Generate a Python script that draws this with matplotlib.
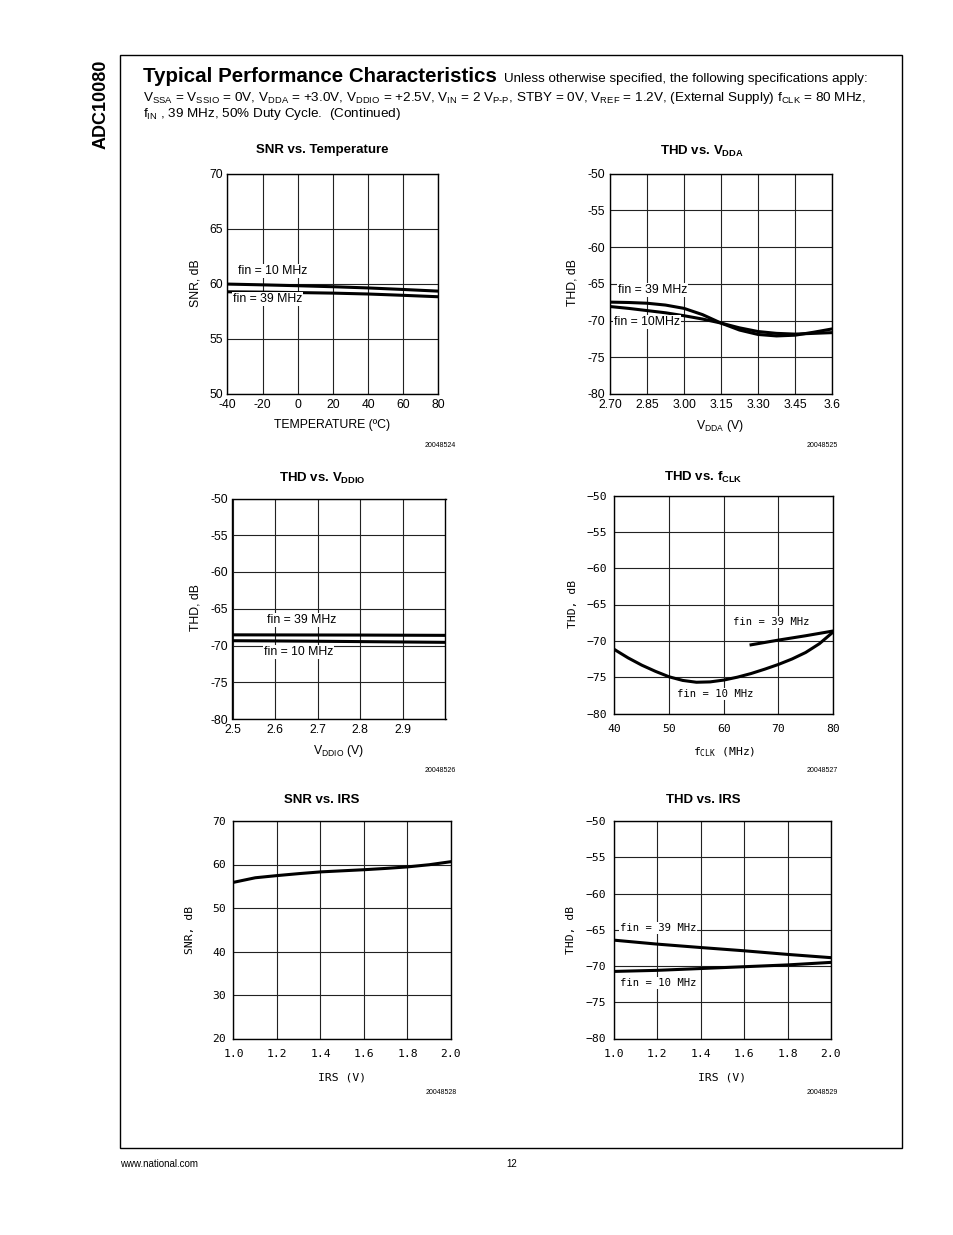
import matplotlib
matplotlib.use('Agg')
import matplotlib.pyplot as plt
from matplotlib.patches import Rectangle

plt.rcParams['font.family'] = ['Liberation Sans', 'DejaVu Sans']
plt.rcParams['mathtext.fontset'] = 'custom'
plt.rcParams['mathtext.rm'] = 'Liberation Sans'
plt.rcParams['mathtext.bf'] = 'Liberation Sans:bold'
plt.rcParams['axes.unicode_minus'] = False

# ---- data ----
temp_c = [-40, -20, 0, 20, 40, 60, 80]
snr_temp_10 = [59.97, 59.9, 59.82, 59.73, 59.62, 59.48, 59.33]
snr_temp_39 = [59.27, 59.24, 59.2, 59.15, 59.07, 58.95, 58.82]

vdda = [2.70, 2.775, 2.85, 2.925, 3.00, 3.075, 3.15, 3.225, 3.30, 3.375, 3.45, 3.525, 3.60]
thd_vdda_39 = [-67.5, -67.55, -67.65, -67.9, -68.35, -69.2, -70.35, -71.3, -71.9, -72.1, -72.0, -71.6, -71.15]
thd_vdda_10 = [-68.1, -68.35, -68.65, -68.95, -69.35, -69.8, -70.35, -71.0, -71.5, -71.75, -71.85, -71.75, -71.65]

vddio = [2.5, 2.6, 2.7, 2.8, 2.9, 3.0]
thd_vddio_39 = [-68.55, -68.56, -68.57, -68.58, -68.6, -68.62]
thd_vddio_10 = [-69.35, -69.38, -69.42, -69.47, -69.52, -69.57]

fclk_10 = [40, 42.5, 45, 47.5, 50, 52.5, 55, 57.5, 60, 62.5, 65, 67.5, 70, 72.5, 75, 77.5, 80]
thd_fclk_10 = [-71.2, -72.35, -73.35, -74.2, -74.95, -75.45, -75.7, -75.65, -75.4, -75.0, -74.5,
               -73.9, -73.25, -72.5, -71.6, -70.4, -68.8]
fclk_39 = [65, 70, 75, 80]
thd_fclk_39 = [-70.55, -69.9, -69.3, -68.65]

irs = [1.0, 1.1, 1.2, 1.3, 1.4, 1.5, 1.6, 1.7, 1.8, 1.9, 2.0]
snr_irs = [55.9, 56.95, 57.45, 57.9, 58.3, 58.55, 58.8, 59.1, 59.45, 59.95, 60.65]
irs_thd = [1.0, 1.2, 1.4, 1.6, 1.8, 2.0]
thd_irs_39 = [-66.43, -66.98, -67.45, -67.9, -68.4, -68.85]
thd_irs_10 = [-70.75, -70.6, -70.35, -70.1, -69.85, -69.5]

snr_ticks_temp = [50, 55, 60, 65, 70]
thd_ticks = [-80, -75, -70, -65, -60, -55, -50]
snr_ticks_irs = [20, 30, 40, 50, 60, 70]
temp_ticks = [-40, -20, 0, 20, 40, 60, 80]
vdda_ticks = [2.70, 2.85, 3.00, 3.15, 3.30, 3.45, 3.60]
vdda_labels = ['2.70', '2.85', '3.00', '3.15', '3.30', '3.45', '3.6']
vddio_ticks = [2.5, 2.6, 2.7, 2.8, 2.9, 3.0]
vddio_labels = ['2.5', '2.6', '2.7', '2.8', '2.9', '']
fclk_ticks = [40, 50, 60, 70, 80]
irs_ticks = [1.0, 1.2, 1.4, 1.6, 1.8, 2.0]

W, H = 954, 1235
fig = plt.figure(figsize=(W / 100, H / 100), dpi=100)

MONO = ['DejaVu Sans Mono']
SANS_SIZE = 8.7
MONO_SIZE = 8.2


def ftext(x, y, s, **kw):
    # place text using page pixel coordinates
    return fig.text(x / W, 1 - y / H, s, **kw)


def panel(box, xlim, ylim, xticks, xlabels, yticks, mono=False):
    l, t, r, b = box
    ax = fig.add_axes([l / W, 1 - b / H, (r - l) / W, (b - t) / H])
    ax.set_xlim(xlim)
    ax.set_ylim(ylim)
    ax.set_xticks(xticks)
    ax.set_yticks(yticks)
    if mono:
        ylab = [str(v).replace('-', '\u2212') for v in yticks]
        fam, size, xpad, ypad = MONO, MONO_SIZE, 7.5, 5.5
    else:
        ylab = [str(v) for v in yticks]
        fam, size, xpad, ypad = ['Liberation Sans'], SANS_SIZE, 3.5, 3.5
    ax.set_xticklabels(xlabels, family=fam, fontsize=size)
    ax.set_yticklabels(ylab, family=fam, fontsize=size)
    ax.tick_params(axis='x', length=0, pad=xpad)
    ax.tick_params(axis='y', length=0, pad=ypad)
    ax.grid(True, color='#222222', linewidth=0.8)
    for s in ax.spines.values():
        s.set_linewidth(1.0)
        s.set_color('black')
    return ax


lab_kw = dict(fontsize=8.8, ha='left', va='center',
              bbox=dict(facecolor='white', edgecolor='none', pad=0.6))
mono_lab_kw = dict(fontsize=7.6, ha='left', va='center', family=MONO,
                   bbox=dict(facecolor='white', edgecolor='none', pad=0.6))

# 1. SNR vs Temperature
ax1 = panel((227.5, 173.5, 438.5, 394), (-40, 80), (50, 70), temp_ticks,
            [str(v) for v in temp_ticks], snr_ticks_temp)
ax1.plot(temp_c, snr_temp_10, color='black', lw=2.2)
ax1.plot(temp_c, snr_temp_39, color='black', lw=2.2)
ax1.text(-34, 61.16, 'fin = 10 MHz', **lab_kw)
ax1.text(-36.9, 58.6, 'fin = 39 MHz', **lab_kw)

# 2. THD vs VDDA
ax2 = panel((610, 173.5, 832, 394), (2.70, 3.60), (-80, -50), vdda_ticks, vdda_labels, thd_ticks)
ax2.plot(vdda, thd_vdda_39, color='black', lw=2.2)
ax2.plot(vdda, thd_vdda_10, color='black', lw=2.2)
ax2.text(2.732, -65.85, 'fin = 39 MHz', **lab_kw)
ax2.text(2.716, -70.2, 'fin = 10MHz', **lab_kw)

# 3. THD vs VDDIO
ax3 = panel((232.5, 498.5, 445.5, 719), (2.5, 3.0), (-80, -50), vddio_ticks, vddio_labels, thd_ticks)
ax3.plot(vddio, thd_vddio_39, color='black', lw=2.2)
ax3.plot(vddio, thd_vddio_10, color='black', lw=2.2)
ax3.text(2.581, -66.53, 'fin = 39 MHz', **lab_kw)
ax3.text(2.574, -70.88, 'fin = 10 MHz', **lab_kw)

# 4. THD vs fCLK
ax4 = panel((614.5, 495.5, 833, 713.5), (40, 80), (-80, -50), fclk_ticks,
            [str(v) for v in fclk_ticks], thd_ticks, mono=True)
ax4.plot(fclk_10, thd_fclk_10, color='black', lw=2.2)
ax4.plot(fclk_39, thd_fclk_39, color='black', lw=2.2)
ax4.text(61.69, -67.41, 'fin = 39 MHz', **mono_lab_kw)
ax4.text(51.44, -77.32, 'fin = 10 MHz', **mono_lab_kw)

# 5. SNR vs IRS
ax5 = panel((233.5, 821, 451, 1038.5), (1.0, 2.0), (20, 70), irs_ticks,
            ['%.1f' % v for v in irs_ticks], snr_ticks_irs, mono=True)
ax5.plot(irs, snr_irs, color='black', lw=2.2)

# 6. THD vs IRS
ax6 = panel((613.5, 821, 831, 1038.5), (1.0, 2.0), (-80, -50), irs_ticks,
            ['%.1f' % v for v in irs_ticks], thd_ticks, mono=True)
ax6.plot(irs_thd, thd_irs_39, color='black', lw=2.2)
ax6.plot(irs_thd, thd_irs_10, color='black', lw=2.2)
ax6.text(1.03, -64.76, 'fin = 39 MHz', **mono_lab_kw)
ax6.text(1.03, -72.34, 'fin = 10 MHz', **mono_lab_kw)

# panel titles
tkw = dict(fontsize=9.5, fontweight='bold', ha='center', va='center')
ftext(322, 150, 'SNR vs. Temperature', **tkw)
ftext(702, 151, r'THD vs. V$_{\mathregular{DDA}}$', **tkw)
ftext(322, 478, r'THD vs. V$_{\mathregular{DDIO}}$', **tkw)
ftext(703, 477, r'THD vs. f$_{\mathregular{CLK}}$', **tkw)
ftext(322, 800, 'SNR vs. IRS', **tkw)
ftext(703, 800, 'THD vs. IRS', **tkw)

# axis labels
xkw = dict(fontsize=8.8, ha='center', va='center')
mxkw = dict(fontsize=MONO_SIZE, ha='center', va='center', family=MONO)
ftext(332, 425, 'TEMPERATURE (\u00baC)', **xkw)
ftext(720, 426, r'V$_{\mathregular{DDA}}$ (V)', **xkw)
ftext(339, 751, r'V$_{\mathregular{DDIO}}$ (V)', **xkw)
ftext(724, 752, r'f$_{\mathregular{CLK}}$ (MHz)', **mxkw)
ftext(342, 1077, 'IRS (V)', **mxkw)
ftext(722, 1077, 'IRS (V)', **mxkw)

ykw = dict(fontsize=8.8, ha='center', va='center', rotation=90)
mykw = dict(fontsize=MONO_SIZE, ha='center', va='center', rotation=90, family=MONO)
ftext(196, 283, 'SNR, dB', **ykw)
ftext(573, 283, 'THD, dB', **ykw)
ftext(196, 608, 'THD, dB', **ykw)
ftext(573, 604, 'THD, dB', **mykw)
ftext(190, 930, 'SNR, dB', **mykw)
ftext(571, 930, 'THD, dB', **mykw)

# figure ids
ikw = dict(fontsize=5, ha='right', va='center')
ftext(456, 446, '20048524', **ikw)
ftext(838, 446, '20048525', **ikw)
ftext(456, 770, '20048526', **ikw)
ftext(838, 770, '20048527', **ikw)
ftext(457, 1092, '20048528', **ikw)
ftext(838, 1092, '20048529', **ikw)

# page header
ftext(143, 77, 'Typical Performance Characteristics', fontsize=14.8, fontweight='bold',
      ha='left', va='center')
ftext(504, 79, 'Unless otherwise specified, the following specifications apply:',
      fontsize=9.6, ha='left', va='center')
spec_line = (r'V$_{\mathregular{SSA}}$ = V$_{\mathregular{SSIO}}$ = 0V, V$_{\mathregular{DDA}}$ = +3.0V, '
             r'V$_{\mathregular{DDIO}}$ = +2.5V, V$_{\mathregular{IN}}$ = 2 V$_{\mathregular{P'
             + '\u2010' +
             r'P}}$, STBY = 0V, V$_{\mathregular{REF}}$ = 1.2V, (External Supply) '
             r'f$_{\mathregular{CLK}}$ = 80 MHz,')
ftext(143, 98, spec_line, fontsize=9.7, ha='left', va='center')
ftext(143, 114, r'f$_{\mathregular{IN}}$ , 39 MHz, 50% Duty Cycle.  (Continued)',
      fontsize=9.7, ha='left', va='center')
ftext(101, 104, 'ADC10080', fontsize=13, fontweight='bold', rotation=90, ha='center', va='center')

# page frame and footer
fig.add_artist(Rectangle((120 / W, 1 - 1148.3 / H), (902.3 - 120) / W, (1148.3 - 55.3) / H,
                         transform=fig.transFigure, fill=False, edgecolor='black', lw=1.0))
ftext(120, 1164, 'www.national.com', fontsize=7, ha='left', va='center')
ftext(512, 1164, '12', fontsize=7, ha='center', va='center')

fig.savefig('out.png', dpi=100)
